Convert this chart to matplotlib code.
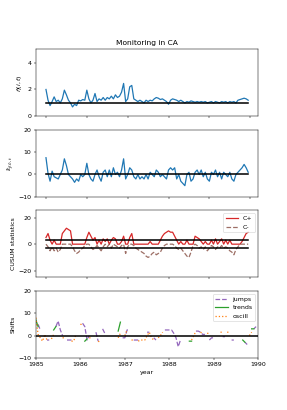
import numpy as np
import matplotlib
matplotlib.use("Agg")
import matplotlib.pyplot as plt

n = np.nan

# time axis (years), step 0.05
years = 1985 + 0.05 * np.arange(100)

ratio = [2.0, 1.2, 0.8, 1.1, 1.45, 1.1, 1.2, 1.0, 1.3, 1.95,
         1.6, 1.2, 1.0, 0.7, 0.9, 0.8, 1.2, 1.15, 1.25, 1.2,
         1.95, 1.3, 1.0, 1.2, 1.7, 1.1, 1.3, 1.2, 1.4, 1.2,
         1.4, 1.3, 1.5, 1.3, 1.6, 1.4, 1.5, 1.8, 2.45, 1.1,
         1.3, 2.2, 2.3, 1.3, 1.2, 1.1, 1.2, 1.1, 1.0, 1.2,
         1.1, 1.2, 1.15, 1.3, 1.4, 1.35, 1.25, 1.3, 1.2, 1.1,
         0.9, 1.2, 1.3, 1.25, 1.2, 1.1, 1.2, 1.1, 1.0, 1.1,
         1.05, 1.15, 1.1, 1.05, 1.1, 1.05, 1.1, 1.05, 1.1, 1.0,
         1.05, 1.1, 1.0, 1.1, 1.05, 1.0, 1.1, 1.05, 1.1, 1.0,
         1.1, 1.05, 1.1, 1.0, 1.2, 1.25, 1.3, 1.35, 1.3, 1.2]

eps = [7.5, 0.5, -3, 1.5, -1, -1.5, -2, 0, 2, 7,
       4, 0, -1, -2, -3.5, -2, -3, 0, -1, 0,
       5, 0, -2, -3, 0, 2, -1, -3, 1, 2,
       -1, 2, -1, 3, 0, 1, -1, 2, 7, -2,
       0, 3, 2, -1, -2, 0, -2, -1, -2, 0,
       -2, 1, 0, -1, 2, 1, -1, 0, -1, -2,
       2, 3, 2, 3, -2, 0, -3, -4, -5, 0,
       1, -3, -2, 1, 2, 0, 2, -1, 1, -2,
       -3, 1, 0, 2, -1, 1, -2, 1, 0, -1,
       1, -2, -3, 0, 1, 2, 3, 4.5, 3, 1]

c_plus = [5, 8, 3, 0, 3, 0, 0, 0, 8, 10,
          12, 11, 10, 0, 0, 0, 0, 0, 0, 0,
          5, 9, 6, 3, 5, 0, 3, 0, 4, 2,
          4, 0, 3, 5, 4, 0, 0, 2, 6, 0,
          0, 5, 8, 0, 0, 0, 0, 0, 0, 0,
          0, 2, 0, 0, 0, 0, 3, 6, 8, 9,
          10, 9, 9, 6, 3, 0, 2, 0, 0, 3,
          0, 0, 0, 6, 5, 4, 2, 0, 2, 0,
          0, 3, 0, 4, 0, 2, 4, 0, 3, 0,
          3, 0, 0, 0, 0, 0, 2, 5, 8, 9]

c_minus = [0, -2, -5, -2, -5, -3, -6, -4, 0, 0,
           0, 0, 0, -2, -5, -7, -6, -4, -3, -1,
           0, 0, -2, -4, -3, -1, -3, -5, -2, 0,
           -2, 0, -3, 0, -1, -2, -3, -1, 0, -7,
           -2, 0, 0, -1, -3, -4, -5, -6, -7, -9,
           -10, -9, -7, -6, -8, -7, -6, -3, -1, 0,
           0, 0, 0, -1, -3, -4, -3, -5, -7, -9,
           -10, -6, -1, 0, -1, -3, -2, -4, -2, -5,
           -3, -1, -2, -4, -2, -3, -1, -3, -2, -3,
           -5, -6, -8, -4, -2, 0, 0, 0, 0, 0]

jumps = [n, 5, 2.5, n, n, -2, -2, n, n, 4,
         6.5, 2.5, 0, n, -2, -2, -2, n, n, n,
         n, 5.5, 4, -2, 0, n, n, 1.5, -2.5, n,
         3, 1, n, n, n, n, n, n, n, -1,
         -1, 2.5, 2.5, n, -2, -2, -2, n, n, n,
         1.5, 1.5, n, -1, -2, n, n, n, 2.5, 2.5,
         2.5, 2.5, 1, -1, -5, -2, n, n, n, n,
         n, n, 2, 2, 1.5, 0.5, 0.5, n, -2, -1,
         -1, n, n, n, -0.5, -0.5, n, n, -2, -2,
         n, n, n, n, -3, -4, n, n, 3, 4]

trends = [7, 4, n, n, n, n, n, n, 2.5, 4,
          n, n, n, n, n, n, n, n, n, n,
          n, n, -2.5, -1.5, n, n, n, n, n, n,
          n, n, n, n, n, n, n, 2, 6, n,
          n, n, n, n, n, n, n, n, n, n,
          n, n, n, n, n, n, n, n, n, n,
          n, n, n, n, n, n, n, n, n, -2.5,
          -2.5, n, n, n, n, n, n, n, n, n,
          n, n, n, n, n, n, n, n, n, n,
          n, n, n, -2, -3, n, n, 3, 3, n]

oscill = [8, 0.5, -1, -2.5, 0.5, -2, n, -1.5, 0.5, n,
          n, n, -1, -1, n, n, -2.5, -2.5, 0.5, n,
          5, 5, n, n, -1, -1, n, n, -2.5, -3,
          n, n, n, n, n, n, n, -1, 1, n,
          0, 2.5, n, -2, -2, n, -2.5, -2, -2, -2,
          0, 1.5, -1, -2, n, -1, 0, 1.5, n, n,
          n, n, n, n, n, n, n, n, n, n,
          -2, 0, 2, n, 1.5, 1, n, 1, 1, n,
          n, n, n, 1.5, 1.5, n, 1.5, 1.5, n, n,
          n, n, n, n, n, n, 0, 1.5, n, n]

year_ticks = [1985, 1986, 1987, 1988, 1989, 1990]

W, H = 287, 410
dpi = W / 6.4
plt.rcParams["lines.linewidth"] = 2.0
fig = plt.figure(figsize=(6.4, H / dpi), dpi=dpi)
axes = fig.subplots(4, 1)
fig.subplots_adjust(left=0.125, right=0.9, top=0.88, bottom=0.127, hspace=0.2)
ax1, ax2, ax3, ax4 = axes

blue = "tab:blue"

ax1.plot(years, ratio, color=blue)
ax1.plot(years, np.ones(len(years)), color="black", lw=2.5)
ax1.set_ylim(0, 5)
ax1.set_yticks([0, 2, 4])
ax1.set_ylabel(r"$\hat{\eta}(i,t)$")
ax1.set_title("Monitoring in CA")

ax2.plot(years, eps, color=blue)
ax2.plot(years, np.zeros(len(years)), color="black", lw=2.5)
ax2.set_ylim(-10, 20)
ax2.set_yticks([-10, 0, 10, 20])
ax2.set_ylabel(r"$\hat{\epsilon}_{j(i),t}$")

ax3.plot(years, c_plus, color="tab:red", label="C+")
ax3.plot(years, c_minus, color="tab:brown", ls="--", alpha=0.85, label="C-")
ax3.plot(years, np.full(len(years), 3.0), color="black", lw=2.5)
ax3.plot(years, np.full(len(years), -3.0), color="black", lw=2.5)
ax3.set_ylim(-25, 25.5)
ax3.set_yticks([-20, 0, 20])
ax3.set_ylabel("CUSUM statistics")
ax3.legend(loc="upper right")

for ax in (ax1, ax2, ax3):
    ax.set_xticks(year_ticks)
    ax.set_xticklabels([])

ax4.plot(years, jumps, color="tab:purple", ls="--", label="jumps")
ax4.plot(years, trends, color="tab:green", ls="-", label="trends")
ax4.plot(years, oscill, color="tab:orange", ls=":", label="oscill")
ax4.axhline(0, color="black", lw=2.5)
ax4.set_xlim(1985, 1990)
ax4.set_xticks(year_ticks)
ax4.set_ylim(-10, 20)
ax4.set_yticks([-10, 0, 10, 20])
ax4.set_ylabel("Shifts")
ax4.set_xlabel("year")
ax4.legend(loc="upper right")

fig.savefig("out.png", dpi=dpi)
